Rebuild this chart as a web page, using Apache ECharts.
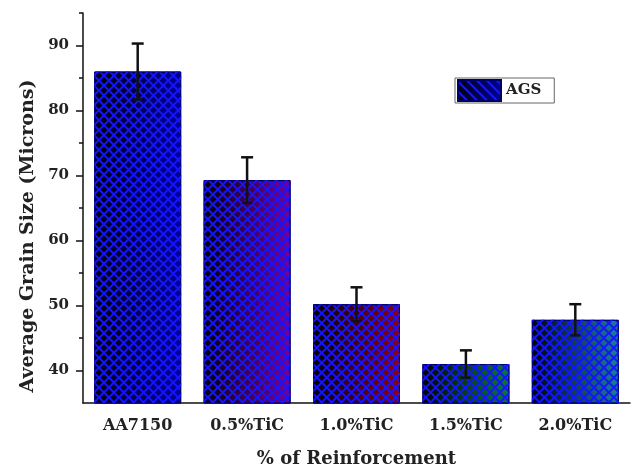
<!DOCTYPE html>
<html>
<head>
<meta charset="utf-8">
<style>
  html, body { margin: 0; padding: 0; background: #fff; }
  #chart { width: 640px; height: 475px; }
</style>
<script src="https://cdn.jsdelivr.net/npm/echarts@6/dist/echarts.min.js"></script>
</head>
<body>
<div id="chart"></div>
<script>
// data
let categories = ["AA7150", "0.5%TiC", "1.0%TiC", "1.5%TiC", "2.0%TiC"];
let grainSize = [86.0, 69.3, 50.2, 41.0, 47.8];
let grainErr = [4.3, 3.5, 2.6, 2.1, 2.4];
let majorTicks = [40, 50, 60, 70, 80, 90];
let minorTicks = [45, 55, 65, 75, 85, 95];
let barEnds = ["#00009a", "#7a0096", "#8c0014", "#0a7a34", "#1c7e9c"];

let font = "DejaVu Serif";
let myChar = echarts.init(document.getElementById("chart"));

function grad(end){
    return new echarts.graphic.LinearGradient(0, 0, 1, 0, [
        {offset: 0, color: "#000008"},
        {offset: 1, color: end}
    ]);
}

let lineDecal = (rot) => ({
    symbol: "rect",
    symbolSize: 1,
    color: "#1414ff",
    dashArrayX: [1, 0],
    dashArrayY: [2, 5],
    rotation: rot
});

let barData = grainSize.map((v, i) => ({
    value: v,
    itemStyle: {color: grad(barEnds[i])}
}));
let errData = grainSize.map((v, i) => [i, v - grainErr[i], v + grainErr[i]]);

myChar.setOption({
    animation: false,
    grid: {left: 83, right: 10, top: 13, bottom: 72},
    legend: {
        data: ["AGS"],
        left: 455,
        top: 78,
        icon: "rect",
        itemWidth: 43,
        itemHeight: 21,
        itemGap: 0,
        padding: [1, 13, 1, 2],
        borderColor: "#666",
        borderWidth: 1,
        backgroundColor: "#fff",
        textStyle: {fontFamily: font, fontWeight: "bold", fontSize: 15, color: "#222"}
    },
    xAxis: [{
        type: "category",
        data: categories,
        axisLine: {lineStyle: {color: "#111", width: 1.5}},
        axisTick: {alignWithLabel: true, length: 7, lineStyle: {color: "#111", width: 1.5}},
        axisLabel: {fontFamily: font, fontWeight: "bold", fontSize: 16, color: "#222", margin: 15},
        name: "% of Reinforcement",
        nameLocation: "middle",
        nameGap: 47,
        nameTextStyle: {fontFamily: font, fontWeight: "bold", fontSize: 18, color: "#222"}
    }, {
        type: "category",
        data: categories,
        position: "bottom",
        axisLine: {show: false},
        axisTick: {length: 4, lineStyle: {color: "#111", width: 1.5}},
        axisLabel: {show: false}
    }],
    yAxis: [{
        type: "value",
        min: 35,
        max: 95,
        splitLine: {show: false},
        axisLine: {show: true, lineStyle: {color: "#111", width: 1.5}},
        axisTick: {show: true, length: 7, customValues: majorTicks, lineStyle: {color: "#111", width: 1.5}},
        axisLabel: {customValues: majorTicks, fontFamily: font, fontWeight: "bold", fontSize: 15, color: "#222", margin: 14},
        name: "Average Grain Size (Microns)",
        nameLocation: "middle",
        nameGap: 44,
        nameTextStyle: {fontFamily: font, fontWeight: "bold", fontSize: 19, color: "#222", padding: [0, 56, 0, 0]}
    }, {
        type: "value",
        min: 35,
        max: 95,
        position: "left",
        splitLine: {show: false},
        axisLine: {show: false},
        axisTick: {show: true, length: 4, customValues: minorTicks, lineStyle: {color: "#111", width: 1.5}},
        axisLabel: {show: false}
    }],
    series: [{
        name: "AGS",
        type: "bar",
        barWidth: 87,
        data: barData,
        itemStyle: {color: grad(barEnds[0]), borderColor: "#00006a", borderWidth: 1, decal: lineDecal(Math.PI / 4)},
        z: 2
    }, {
        name: "AGS",
        type: "bar",
        barWidth: 87,
        barGap: "-100%",
        data: grainSize,
        itemStyle: {color: "rgba(0,0,0,0)", decal: lineDecal(-Math.PI / 4)},
        z: 3
    }, {
        type: "custom",
        data: errData,
        z: 5,
        renderItem: (params, api) => {
            let lo = api.coord([api.value(0), api.value(1)]);
            let hi = api.coord([api.value(0), api.value(2)]);
            let w = 6;
            let st = {stroke: "#111", lineWidth: 2.5};
            return {
                type: "group",
                children: [
                    {type: "line", shape: {x1: hi[0], y1: hi[1], x2: lo[0], y2: lo[1]}, style: st},
                    {type: "line", shape: {x1: hi[0] - w, y1: hi[1], x2: hi[0] + w, y2: hi[1]}, style: st},
                    {type: "line", shape: {x1: lo[0] - w + 1, y1: lo[1], x2: lo[0] + w - 1, y2: lo[1]}, style: st}
                ]
            };
        }
    }]
});
</script>
</body>
</html>
